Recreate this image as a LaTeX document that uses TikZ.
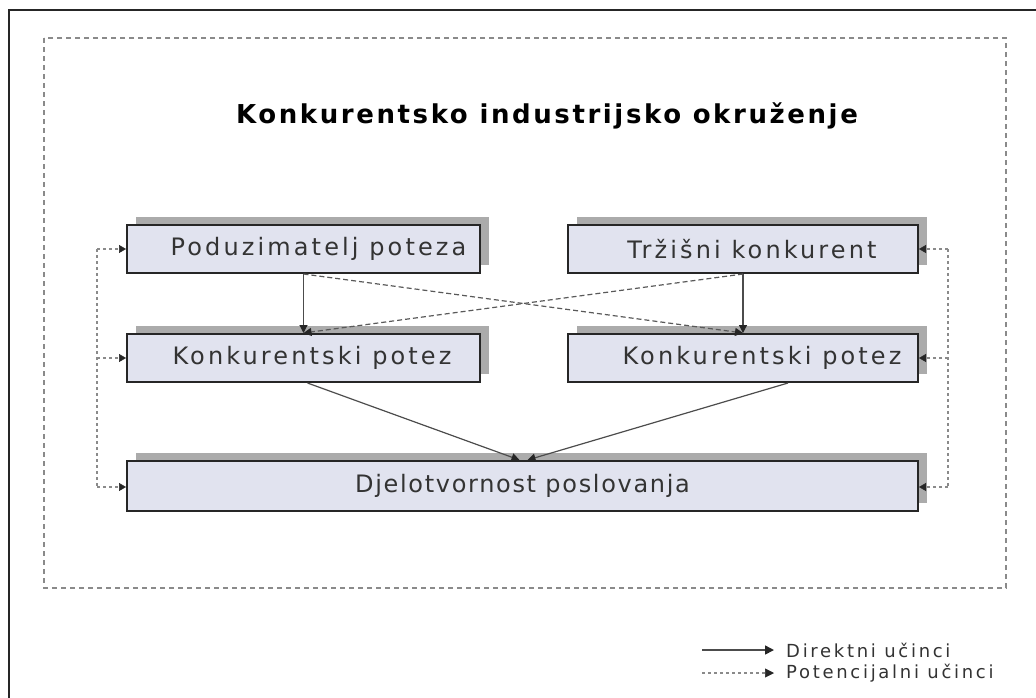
\documentclass[tikz,border=0pt]{standalone}
\usepackage{fontspec}
\setmainfont{DejaVu Sans}
\newfontfamily\boxfont[LetterSpace=13]{DejaVu Sans}
\newfontfamily\widefont[LetterSpace=7]{DejaVu Sans}
\newfontfamily\titlefont[LetterSpace=10]{DejaVu Sans}
\newfontfamily\legfont[LetterSpace=15]{DejaVu Sans}
\usetikzlibrary{arrows.meta,shadows}
\definecolor{boxfill}{HTML}{E1E3EF}
\definecolor{shadowgray}{HTML}{ABABAB}
\definecolor{framegray}{HTML}{8A8A8A}
\tikzset{
  stepbox/.style={draw=black!85, line width=2pt, fill=boxfill, minimum height=48pt,
    inner sep=0pt, font=\boxfont\fontsize{24}{28}\selectfont, text=black!80,
    drop shadow={shadow xshift=9pt, shadow yshift=8pt, fill=shadowgray, opacity=1}},
  tip/.style={-{Triangle[length=8pt,width=8pt,color=black!85]}},
  direct/.style={tip, draw=black!70, line width=1.2pt},
  potential/.style={tip, draw=black!65, line width=1.2pt, dash pattern=on 5pt off 3pt},
  feedback/.style={draw=framegray, line width=1.3pt, dash pattern=on 3pt off 3pt},
  fbarrow/.style={feedback, -{Triangle[length=7pt,width=8pt,color=black!85,line width=0.5pt]}},
  legtext/.style={anchor=west, font=\legfont\fontsize{18}{21}\selectfont, text=black!80, inner sep=0pt},
}
\begin{document}
\begin{tikzpicture}[x=1pt,y=-1pt]
\useasboundingbox (0,0) rectangle (1036,697);
\clip (0,0) rectangle (1036,697);
% outer frame
\draw[line width=2.5pt, black!85] (9,10) rectangle (1060,720);
% dashed environment frame
\draw[framegray, line width=1.5pt, dash pattern=on 5pt off 4pt] (44,38) rectangle (1006,588);
\node[font=\titlefont\bfseries\fontsize{26}{30}\selectfont] (title) at (547,116) {Konkurentsko industrijsko okruženje};

\node[stepbox, minimum width=353pt] (a) at (303.5,249) {\hspace*{30pt}Poduzimatelj poteza};
\node[stepbox, minimum width=350pt] (b) at (743,249) {\hspace*{18pt}Tržišni konkurent};
\node[stepbox, minimum width=353pt] (c) at (303.5,358) {\hspace*{17pt}Konkurentski potez};
\node[stepbox, minimum width=350pt] (d) at (743,358) {\hspace*{38pt}Konkurentski potez};
\node[stepbox, minimum width=791pt, minimum height=50pt, font=\widefont\fontsize{24}{28}\selectfont] (e) at (522.5,486) {Djelotvornost poslovanja};

% direct effects
\draw[direct] (a.south) -- (c.north);
\draw[direct] (b.south) -- (d.north);
\draw[direct] ([xshift=4pt]c.south) -- ([xshift=-3pt]e.north);
\draw[direct] ([xshift=45pt]d.south) -- ([xshift=5pt]e.north);
% potential effects
\draw[potential] (a.south) -- (d.north);
\draw[potential] (b.south) -- (c.north);

% feedback lines
\coordinate (l1) at (97,249);
\coordinate (l2) at (97,358);
\coordinate (l3) at (97,487);
\coordinate (r1) at (948,249);
\coordinate (r2) at (948,358);
\coordinate (r3) at (948,487);
\draw[feedback] (l1) -- (l3);
\draw[feedback] (r1) -- (r3);
\draw[fbarrow] (l1) -- (a.west);
\draw[fbarrow] (l2) -- (c.west);
\draw[fbarrow] (l3) -- (l3 -| e.west);
\draw[fbarrow] (r1) -- (b.east);
\draw[fbarrow] (r2) -- (d.east);
\draw[fbarrow] (r3) -- (r3 -| e.east);

% legend
\coordinate (ls1) at (702,650);
\coordinate (ls2) at (702,673);
\node[legtext] (leg1) at (786,650) {Direktni učinci};
\node[legtext] (leg2) at (786,673) {Potencijalni učinci};
\draw[direct, line width=1.5pt, -{Triangle[length=9pt,width=9pt,color=black!85]}] (ls1) -- ([xshift=-12pt]leg1.west);
\draw[feedback, -{Triangle[length=9pt,width=9pt,color=black!85,line width=0.5pt]}] (ls2) -- ([xshift=-12pt]leg2.west);
\end{tikzpicture}
\end{document}
